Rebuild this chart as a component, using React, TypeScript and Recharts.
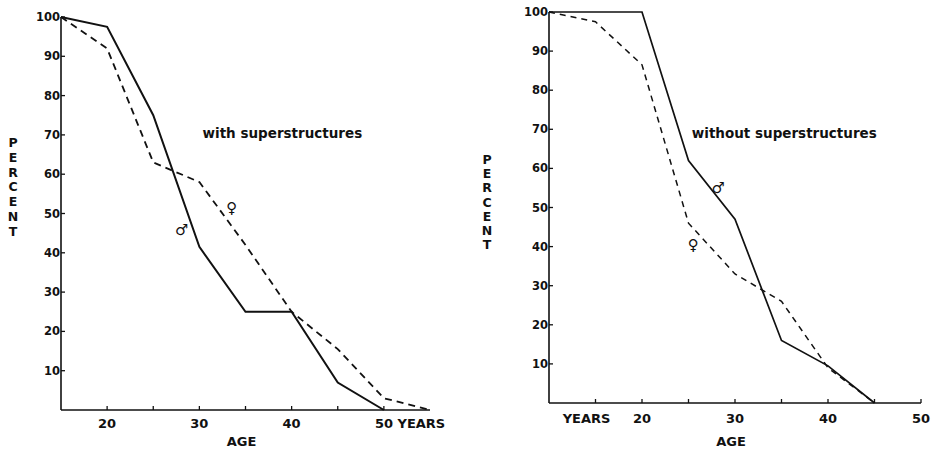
import React from 'react';
import { LineChart, Line, XAxis, YAxis, ReferenceDot } from 'recharts';

// Survival curves (percent still alive by age), males solid, females dashed.
const leftAges = [15, 20, 25, 30, 35, 40, 45, 50, 55];
const leftMale = [100, 97.5, 75, 41.5, 25, 25, 7, 0, null];
const leftFemale = [100, 92, 63, 58, 42, 25, 15.5, 3, 0];

const rightAges = [10, 15, 20, 25, 30, 35, 40, 45, 50];
const rightMale = [100, 100, 100, 62, 47, 16, 9.5, 0, null];
const rightFemale = [100, 97.5, 86.5, 46, 33, 26, 9, 0, null];

const percentTicks = [10, 20, 30, 40, 50, 60, 70, 80, 90, 100];
const leftAgeTicks = [20, 25, 30, 35, 40, 45, 50];
const rightAgeTicks = [15, 20, 25, 30, 35, 40, 45, 50];
const leftAgeLabels: Record<number, string> = { 20: '20', 30: '30', 40: '40', 50: '50 YEARS' };
const rightAgeLabels: Record<number, string> = { 15: 'YEARS', 20: '20', 30: '30', 40: '40', 50: '50' };

const leftTitle = 'with superstructures';
const rightTitle = 'without superstructures';

const leftData = leftAges.map((age, i) => ({ age, male: leftMale[i], female: leftFemale[i] }));
const rightData = rightAges.map((age, i) => ({ age, male: rightMale[i], female: rightFemale[i] }));

const INK = '#111';
const FONT = '"DejaVu Sans", Verdana, sans-serif';

const YTick = (props: any) => {
  const { x, y, payload } = props;
  return (
    <g>
      <line x1={x} x2={x + 4} y1={y} y2={y} stroke={INK} strokeWidth={1.3} />
      <text x={x - 1} y={y} dy={4} textAnchor="end" fontSize={11.5} fontWeight="bold" fontFamily={FONT} fill={INK}>
        {payload.value}
      </text>
    </g>
  );
};

const makeXTick = (labels: Record<number, string>, dy: number, fontSize: number) => (props: any) => {
  const { x, y, payload } = props;
  const label = labels[payload.value];
  let anchor: 'middle' | 'start' = 'middle';
  let dx = 0;
  if (label === '50 YEARS') {
    anchor = 'start';
    dx = -9;
  } else if (label === 'YEARS') {
    dx = -9;
  }
  return (
    <g>
      <line x1={x} x2={x} y1={y} y2={y - 4} stroke={INK} strokeWidth={1.3} />
      {label && (
        <text x={x + dx} y={y + dy} textAnchor={anchor} fontSize={fontSize} fontWeight="bold" fontFamily={FONT} fill={INK}>
          {label}
        </text>
      )}
    </g>
  );
};

const percentLabel = (cx: number, firstBaseline: number, step: number) => (props: any) => {
  const vb = props.viewBox || {};
  const letters = 'PERCENT'.split('');
  return (
    <text fontSize={12.5} fontWeight="bold" fontFamily={FONT} fill={INK} textAnchor="middle">
      {letters.map((ch, i) => (
        <tspan key={i} x={(vb.x || 0) + cx} y={(vb.y || 0) + firstBaseline + i * step}>
          {ch}
        </tspan>
      ))}
    </text>
  );
};

const ageLabel = (dx: number, dy: number) => (props: any) => {
  const vb = props.viewBox || {};
  return (
    <text
      x={vb.x + vb.width / 2 + dx}
      y={vb.y + dy}
      textAnchor="middle"
      fontSize={13}
      fontWeight="bold"
      fontFamily={FONT}
      fill={INK}
    >
      AGE
    </text>
  );
};

const noteLabel = (text: string, size: number) => ({
  value: text,
  position: 'center' as const,
  fontSize: size,
  fontWeight: 'bold',
  fontFamily: FONT,
  fill: INK,
});

export default function App() {
  return (
    <div style={{ position: 'absolute', left: 0, top: 0, width: 938, height: 452, background: '#fff' }}>
      <div style={{ position: 'absolute', left: 0, top: 0 }}>
        <LineChart width={460} height={452} data={leftData} margin={{ top: 17, right: 30, bottom: 0, left: 0 }}>
          <XAxis
            dataKey="age"
            type="number"
            domain={[15, 55]}
            ticks={leftAgeTicks}
            interval={0}
            height={42}
            tickLine={false}
            tickSize={0}
            tickMargin={0}
            axisLine={{ stroke: INK, strokeWidth: 1.6 }}
            tick={makeXTick(leftAgeLabels, 18, 13)}
            label={{ content: ageLabel(-4, 36) }}
          />
          <YAxis
            type="number"
            domain={[0, 100]}
            ticks={percentTicks}
            interval={0}
            width={61}
            tickLine={false}
            tickSize={0}
            tickMargin={0}
            axisLine={{ stroke: INK, strokeWidth: 1.6 }}
            tick={<YTick />}
            label={{ content: percentLabel(13, 130, 14.8) }}
          />
          <Line
            type="linear"
            dataKey="male"
            stroke={INK}
            strokeWidth={2}
            dot={false}
            isAnimationActive={false}
          />
          <Line
            type="linear"
            dataKey="female"
            stroke={INK}
            strokeWidth={1.8}
            strokeDasharray="7 5"
            dot={false}
            isAnimationActive={false}
          />
          <ReferenceDot x={39} y={70.5} r={0.01} fill="none" stroke="none" ifOverflow="visible" label={noteLabel(leftTitle, 13.5)} />
          <ReferenceDot x={28.1} y={46} r={0.01} fill="none" stroke="none" ifOverflow="visible" label={noteLabel('♂', 15)} />
          <ReferenceDot x={33.5} y={51.4} r={0.01} fill="none" stroke="none" ifOverflow="visible" label={noteLabel('♀', 15)} />
        </LineChart>
      </div>
      <div style={{ position: 'absolute', left: 470, top: 0 }}>
        <LineChart width={468} height={452} data={rightData} margin={{ top: 12, right: 17, bottom: 0, left: 0 }}>
          <XAxis
            dataKey="age"
            type="number"
            domain={[10, 50]}
            ticks={rightAgeTicks}
            interval={0}
            height={49}
            tickLine={false}
            tickSize={0}
            tickMargin={0}
            axisLine={{ stroke: INK, strokeWidth: 1.6 }}
            tick={makeXTick(rightAgeLabels, 20, 13)}
            label={{ content: ageLabel(-4, 43) }}
          />
          <YAxis
            type="number"
            domain={[0, 100]}
            ticks={percentTicks}
            interval={0}
            width={79}
            tickLine={false}
            tickSize={0}
            tickMargin={0}
            axisLine={{ stroke: INK, strokeWidth: 1.6 }}
            tick={<YTick />}
            label={{ content: percentLabel(17, 152, 14.2) }}
          />
          <Line
            type="linear"
            dataKey="male"
            stroke={INK}
            strokeWidth={1.7}
            dot={false}
            isAnimationActive={false}
          />
          <Line
            type="linear"
            dataKey="female"
            stroke={INK}
            strokeWidth={1.5}
            strokeDasharray="6 5"
            dot={false}
            isAnimationActive={false}
          />
          <ReferenceDot x={35.3} y={69} r={0.01} fill="none" stroke="none" ifOverflow="visible" label={noteLabel(rightTitle, 13.5)} />
          <ReferenceDot x={28.2} y={55} r={0.01} fill="none" stroke="none" ifOverflow="visible" label={noteLabel('♂', 15)} />
          <ReferenceDot x={25.5} y={40.4} r={0.01} fill="none" stroke="none" ifOverflow="visible" label={noteLabel('♀', 15)} />
        </LineChart>
      </div>
    </div>
  );
}
